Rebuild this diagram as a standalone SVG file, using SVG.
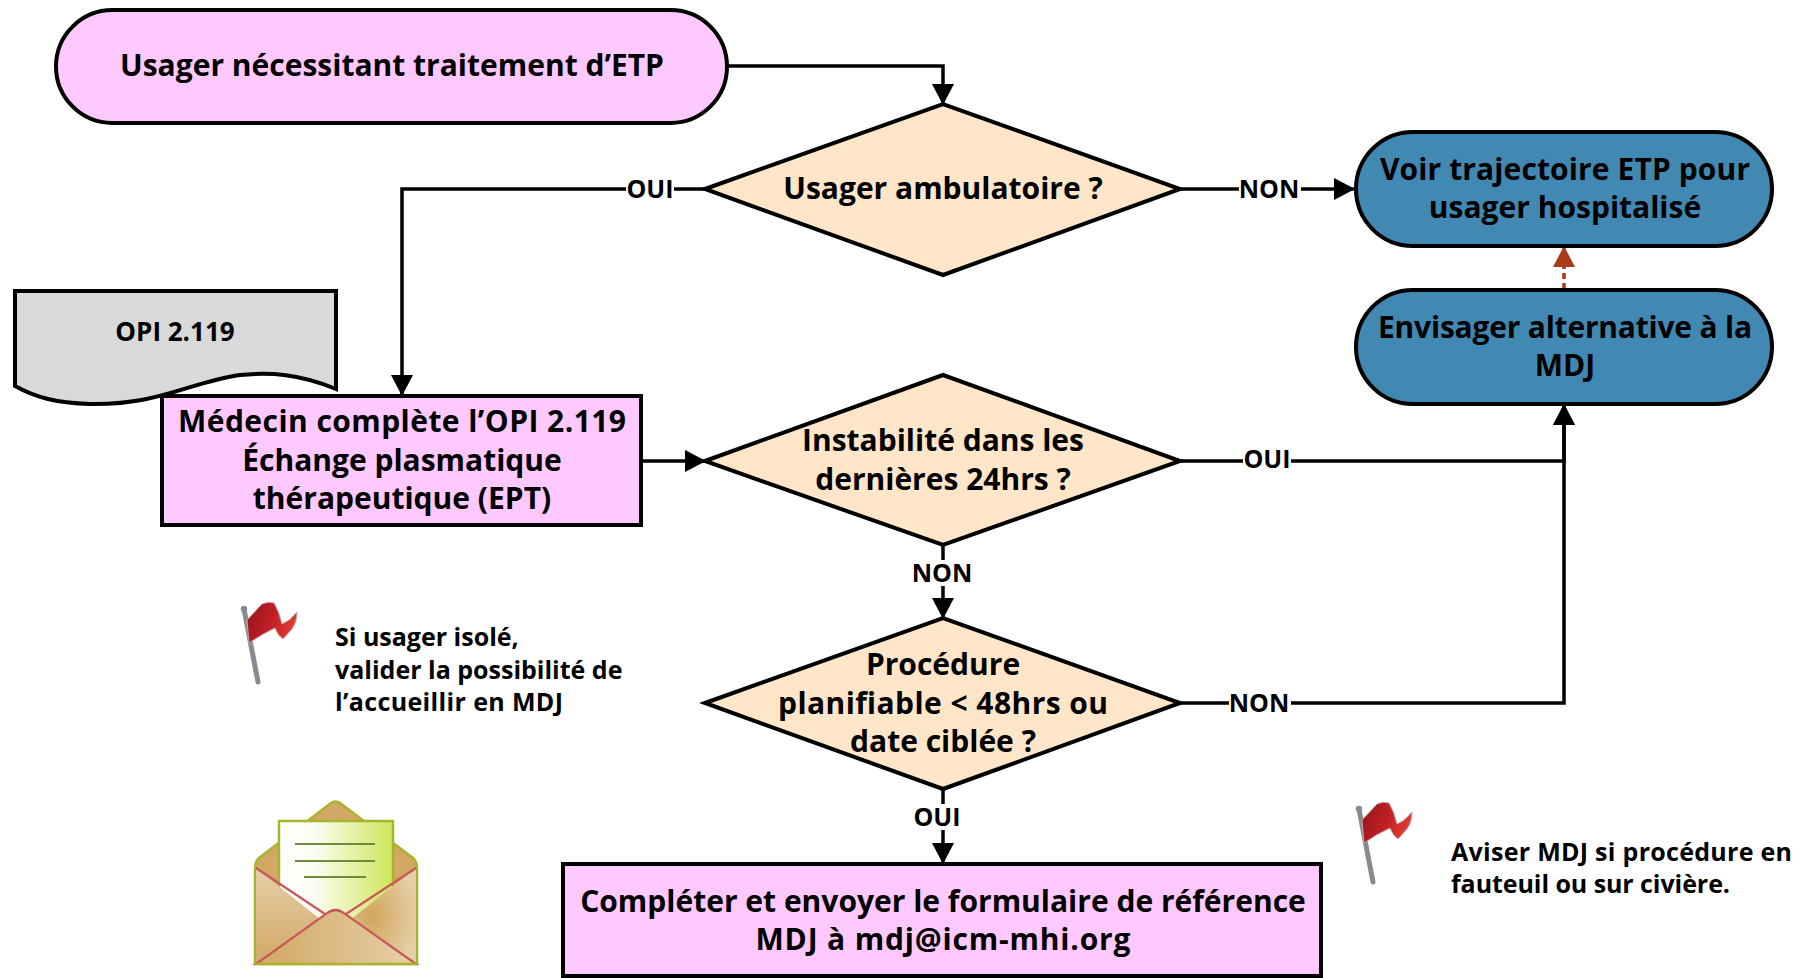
<svg xmlns="http://www.w3.org/2000/svg" xmlns:xlink="http://www.w3.org/1999/xlink" width="1820" height="978" viewBox="0 0 1820 978">
<style>
text{font-family:"Open Sans","Noto Sans","Liberation Sans",sans-serif;font-weight:700;fill:#000}
.t{font-size:30px;text-anchor:middle}
.l{font-size:25px;text-anchor:middle}
.n{font-size:25px}
.s{stroke:#000;stroke-width:4;stroke-linejoin:miter}
.p{fill:#FFC9FF}.d{fill:#FFE6C9}.b{fill:#4188B3}
.c{fill:none;stroke:#000;stroke-width:3.5}
.lb{fill:#fff}
</style>
<defs>
<marker id="a" markerUnits="userSpaceOnUse" markerWidth="22" markerHeight="22" refX="21" refY="11" orient="auto"><path d="M0 0L21 11L0 22Z" fill="#000"/></marker>
<marker id="r" markerUnits="userSpaceOnUse" markerWidth="22" markerHeight="22" refX="21" refY="11" orient="auto"><path d="M0 0L21 11L0 22Z" fill="#A93B1A"/></marker>
<linearGradient id="fg" x1="0" y1="0" x2="1" y2="0.3"><stop offset="0" stop-color="#96141c"/><stop offset=".55" stop-color="#bd1f24"/><stop offset="1" stop-color="#e0392f"/></linearGradient>
<linearGradient id="pg" x1="0" y1="0" x2="1" y2="0"><stop offset="0" stop-color="#fff"/><stop offset=".3" stop-color="#fbfdf4"/><stop offset="1" stop-color="#cde65a"/></linearGradient>
<linearGradient id="eg" x1="0" y1="0" x2="1" y2="0"><stop offset="0" stop-color="#d2a864"/><stop offset="1" stop-color="#e6cfa8"/></linearGradient>
<radialGradient id="er" cx=".45" cy=".5" r=".6"><stop offset="0" stop-color="#d2a55c"/><stop offset="1" stop-color="#e6cfa8"/></radialGradient>
<linearGradient id="el" x1="0" y1="0" x2="0" y2="1"><stop offset="0" stop-color="#e6cfa8"/><stop offset="1" stop-color="#d2a864"/></linearGradient>
<g id="flag">
<path d="M244 609L258 682" stroke="#8a8a90" stroke-width="5" stroke-linecap="round" fill="none"/>
<circle cx="244" cy="609" r="2.500" fill="none" stroke="#8a8a90" stroke-width="1.500"/>
<path d="M247 620L262 604Q268 601 274 603Q279 611 282 624Q290 621 297 612Q297 622 292 629L283 639Q278 636 275 628Q262 634 249 643Z" fill="url(#fg)" stroke="#c9a6a6" stroke-width="1"/>
</g>
</defs>
<g id="connectors">
<path class="c" d="M727 66H943V105" marker-end="url(#a)"/>
<path class="c" d="M706 189H402V396" marker-end="url(#a)"/>
<path class="c" d="M1180 189H1355" marker-end="url(#a)"/>
<path class="c" d="M641 461H706" marker-end="url(#a)"/>
<path class="c" d="M1180 461H1564V404" marker-end="url(#a)"/>
<path class="c" d="M1180 703H1564V404" marker-end="url(#a)"/>
<path class="c" d="M943 545V619" marker-end="url(#a)"/>
<path class="c" d="M943 789V864" marker-end="url(#a)"/>
<path d="M1564 289V246" fill="none" stroke="#A93B1A" stroke-width="3.500" stroke-dasharray="6 4" marker-end="url(#r)"/>
</g>
<g id="connector-labels">
<rect class="lb" x="626" y="176" width="48" height="26"/><text class="l" x="650" y="198">OUI</text>
<rect class="lb" x="1239" y="176" width="62" height="26"/><text class="l" x="1269" y="198">NON</text>
<rect class="lb" x="1243" y="447" width="48" height="26"/><text class="l" x="1267" y="468">OUI</text>
<rect class="lb" x="911" y="560" width="62" height="26"/><text class="l" x="942" y="582">NON</text>
<rect class="lb" x="1229" y="690" width="62" height="26"/><text class="l" x="1259" y="712">NON</text>
<rect class="lb" x="913" y="804" width="48" height="26"/><text class="l" x="937" y="826">OUI</text>
</g>
<g id="start"><rect class="s p" x="56" y="10" width="671" height="113" rx="56.500"/><text class="t" x="392" y="76">Usager nécessitant traitement d’ETP</text></g>
<g id="d1"><path class="s d" d="M705 189L943 104L1180 189L943 275Z"/><text class="t" x="943" y="199">Usager ambulatoire ?</text></g>
<g id="t1"><rect class="s b" x="1356" y="132" width="416" height="114" rx="57"/><text class="t" x="1565" y="180" textLength="370">Voir trajectoire ETP pour</text><text class="t" x="1565" y="218">usager hospitalisé</text></g>
<g id="t2"><rect class="s b" x="1356" y="290" width="416" height="114" rx="57"/><text class="t" x="1565" y="338" textLength="374">Envisager alternative à la</text><text class="t" x="1565" y="376">MDJ</text></g>
<g id="doc"><path class="s" fill="#D9D9D9" d="M15 291H336V389C300 374 270 372 240 375C190 382 160 405 90 404C55 403 35 397 15 386Z"/><text x="175" y="341" text-anchor="middle" font-size="26">OPI 2.119</text></g>
<g id="box1"><rect class="s p" x="162" y="396" width="479" height="129"/><text class="t" x="402" y="432" textLength="448">Médecin complète l’OPI 2.119</text><text class="t" x="402" y="471">Échange plasmatique</text><text class="t" x="402" y="509">thérapeutique (EPT)</text></g>
<g id="d2"><path class="s d" d="M705 461L943 375L1180 461L943 545Z"/><text class="t" x="943" y="451">Instabilité dans les</text><text class="t" x="943" y="490">dernières 24hrs ?</text></g>
<g id="d3"><path class="s d" d="M705 703L943 618L1180 703L943 789Z"/><text class="t" x="943" y="675">Procédure</text><text class="t" x="943" y="714" textLength="330">planifiable &lt; 48hrs ou</text><text class="t" x="943" y="752">date ciblée ?</text></g>
<g id="box2"><rect class="s p" x="563" y="864" width="758" height="112"/><text class="t" x="943" y="912">Compléter et envoyer le formulaire de référence</text><text class="t" x="943" y="950" textLength="375">MDJ à mdj@icm-mhi.org</text></g>
<g id="flag1"><use xlink:href="#flag" href="#flag"/><text class="n" x="335" y="646">Si usager isolé,</text><text class="n" x="335" y="679">valider la possibilité de</text><text class="n" x="335" y="711" textLength="228">l’accueillir en MDJ</text></g>
<g id="flag2"><use xlink:href="#flag" href="#flag" transform="translate(1115 200)"/><text class="n" x="1451" y="861" textLength="341">Aviser MDJ si procédure en</text><text class="n" x="1451" y="893" textLength="279">fauteuil ou sur civière.</text></g>
<g id="envelope">
<path d="M255 868Q255 862 259 858L331 803Q335.500 800 340 803L413 858Q417 862 417 868V964H255Z" fill="#D2A864" stroke="#A9B42E" stroke-width="2.500"/>
<rect x="279" y="821" width="114" height="105" fill="url(#pg)" stroke="#A9B42E" stroke-width="2.500"/>
<path d="M295 844H375M295 861H375M304 877H366" stroke="#6F8A3A" stroke-width="2" fill="none"/>
<path d="M256 868L335 931L256 964Z" fill="url(#el)"/>
<path d="M416 868L336 931L416 964Z" fill="url(#er)"/>
<path d="M256 868L325 914M416 868L346 914" fill="none" stroke="#C9585A" stroke-width="2.200"/>
<path d="M256 964L326 914Q335.500 906 345 914L416 964Z" fill="url(#eg)" stroke="#C9585A" stroke-width="2.200"/>
<path d="M255 964H417" stroke="#A9B42E" stroke-width="2.500"/>
</g>
</svg>
